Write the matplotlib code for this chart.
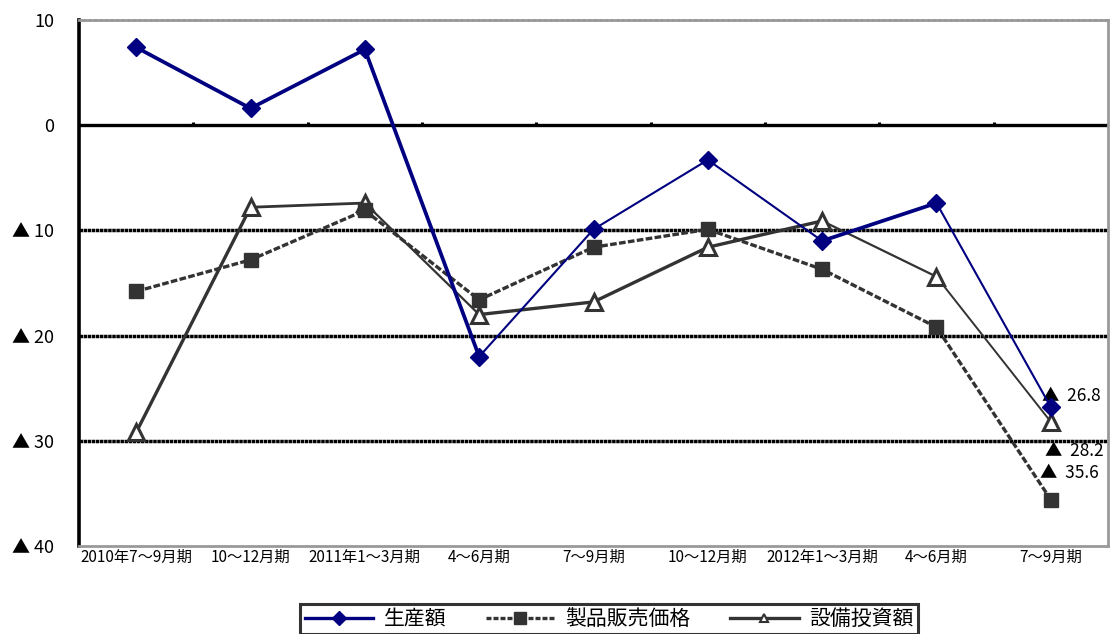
import numpy as np
import matplotlib.pyplot as plt
from matplotlib.lines import Line2D

plt.rcParams['font.family'] = ['Noto Sans CJK JP', 'DejaVu Sans']

periods = ['2010年7～9月期', '10～12月期', '2011年1～3月期', '4～6月期', '7～9月期',
           '10～12月期', '2012年1～3月期', '4～6月期', '7～9月期']
production = [7.4, 1.6, 7.2, -22.0, -9.9, -3.3, -11.0, -7.4, -26.8]
price = [-15.8, -12.8, -8.1, -16.6, -11.6, -9.9, -13.7, -19.2, -35.6]
investment = [-29.2, -7.8, -7.4, -18.0, -16.8, -11.6, -9.1, -14.4, -28.2]
series_names = ['生産額', '製品販売価格', '設備投資額']
ytick_vals = [10, 0, -10, -20, -30, -40]
ytick_labels = ['10', '0', '▲ 10', '▲ 20', '▲ 30', '▲ 40']

# per-segment widths (the original chart mixes thick and thin segments)
prod_w = [2.7, 2.7, 2.7, 1.5, 1.5, 1.5, 2.7, 1.5]
inv_w = [2.4, 2.0, 1.6, 2.4, 2.4, 2.4, 1.6, 1.4]

fig = plt.figure(figsize=(11.15, 6.34), dpi=100)
ax = fig.add_axes([79 / 1115, 88 / 634, 1029 / 1115, 526 / 634])

x = np.arange(len(periods))

# grid lines
for v in [-10, -20, -30]:
    ax.axhline(v, color='black', lw=2.5, ls=(0, (1.0, 0.18)), zorder=1)
ax.axhline(0, color='black', lw=2.4, zorder=1)
ax.vlines(x[:-1] + 0.5, 0, 0.35, color='black', lw=2.2, zorder=1)

navy = '#000080'
dark = '#333333'

for i in range(len(x) - 1):
    ax.plot(x[i:i + 2], investment[i:i + 2], color=dark, lw=inv_w[i],
            solid_capstyle='round', zorder=2)
ax.plot(x, price, color=dark, lw=2.4, ls=(0, (2.0, 0.7)), zorder=3)
for i in range(len(x) - 1):
    ax.plot(x[i:i + 2], production[i:i + 2], color=navy, lw=prod_w[i],
            solid_capstyle='round', zorder=4)

ax.plot(x, investment, ls='none', marker='^', ms=12, mfc='white', mec=dark, mew=2.2, zorder=5)
ax.plot(x, price, ls='none', marker='s', ms=10, mfc=dark, mec=dark, zorder=5)
ax.plot(x, production, ls='none', marker='D', ms=9, mfc=navy, mec=navy, zorder=6)

ax.set_xlim(-0.5, len(x) - 0.5)
ax.set_ylim(-40, 10)
ax.set_yticks(ytick_vals)
ax.set_yticklabels(ytick_labels, fontsize=13)
ax.set_xticks(x)
ax.set_xticklabels(periods, fontsize=11)
ax.tick_params(axis='x', length=0, pad=2)
ax.tick_params(axis='y', length=0, pad=18)

ax.spines['left'].set_linewidth(2.6)
ax.spines['left'].set_color('black')
ax.spines['top'].set_color('#999999')
ax.spines['top'].set_linestyle((0, (1.5, 0.5)))
ax.spines['top'].set_linewidth(2)
ax.spines['right'].set_color('#999999')
ax.spines['right'].set_linewidth(2)
ax.spines['bottom'].set_color('#999999')
ax.spines['bottom'].set_linewidth(2)

# value labels for the last period
last = len(x) - 1
ax.annotate('▲  26.8', xy=(last, production[-1]), xytext=(-6, 8), textcoords='offset points',
            fontsize=12.5, va='center', ha='left', annotation_clip=False)
ax.annotate('▲  28.2', xy=(last, investment[-1]), xytext=(-4, -21), textcoords='offset points',
            fontsize=12.5, va='center', ha='left', annotation_clip=False)
ax.annotate('▲  35.6', xy=(last, price[-1]), xytext=(-8, 19), textcoords='offset points',
            fontsize=12.5, va='center', ha='left', annotation_clip=False)

handles = [
    Line2D([], [], color=navy, lw=2.4, marker='D', ms=7),
    Line2D([], [], color=dark, lw=2.4, ls=(0, (1.5, 0.6)), marker='s', ms=9),
    Line2D([], [], color=dark, lw=2.4, marker='^', ms=6, mfc='white', mec=dark, mew=1.5),
]
leg = fig.legend(handles, series_names, loc='lower center', bbox_to_anchor=(609 / 1115, 0.0),
                 ncol=3, fontsize=15, frameon=True, fancybox=False, edgecolor='black',
                 handlelength=3.3, columnspacing=1.9, borderpad=0.2, handletextpad=0.5,
                 borderaxespad=0)
leg.get_frame().set_linewidth(2.2)

fig.savefig('out.png', dpi=100)
